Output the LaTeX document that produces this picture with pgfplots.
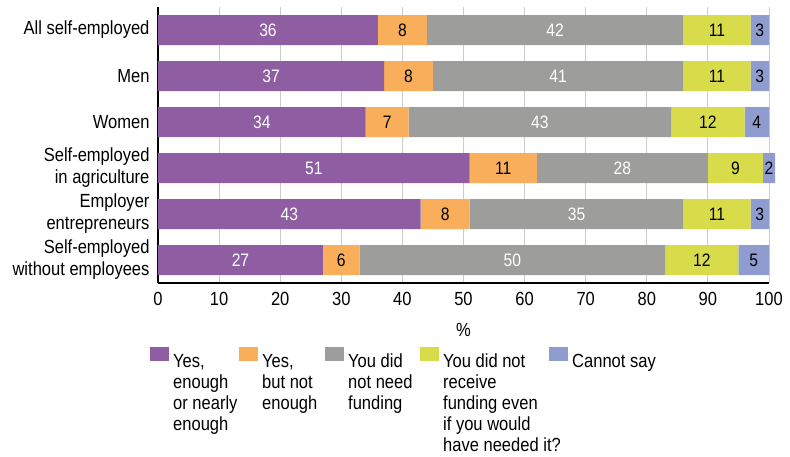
\documentclass[border=0pt]{standalone}
\usepackage{pgfplots}
\pgfplotsset{compat=1.18}
\usepackage{pgfplotstable}
\usepackage{fontspec}
\setmainfont{Liberation Sans}[FakeStretch=0.87]

\definecolor{cA}{HTML}{8F5EA2}
\definecolor{cB}{HTML}{F8AE5A}
\definecolor{cC}{HTML}{9D9D9C}
\definecolor{cD}{HTML}{D8DC4B}
\definecolor{cE}{HTML}{8E9CD0}

% y = row of the chart, a..e = the five answers (%)
\pgfplotstableread{
y a  b  c  d  e
0 36 8  42 11 3
1 37 8  41 11 3
2 34 7  43 12 4
3 51 11 28 9  2
4 43 8  35 11 3
5 27 6  50 12 5
}\data

\newcommand{\entry}[2]{\makebox[#1][l]{\begin{tabular}[t]{@{}l@{}}#2\end{tabular}}}

\begin{document}
\begin{tikzpicture}
\begin{axis}[
    xbar stacked,
    x=6.11pt, y=46pt, bar width=30pt,
    xmin=0, xmax=100, ymin=-0.5, ymax=5.5,
    y dir=reverse,
    clip=false,
    axis lines*=left,
    axis line style={-, black, line width=1.5pt},
    xtick={0,10,...,100},
    ytick={0,...,5},
    yticklabels={All self-employed, Men, Women, {Self-employed\\in agriculture}, {Employer\\entrepreneurs}, {Self-employed\\without employees}},
    yticklabel style={align=right, xshift=-5pt},
    xticklabel style={yshift=-6pt},
    xmajorgrids,
    grid style={black!20, line width=1pt},
    major tick length=0pt,
    tick label style={font=\fontsize{19}{22}\selectfont},
    /pgf/number format/assume math mode=true,
    xlabel={\%},
    xlabel style={yshift=-10pt},
    label style={font=\fontsize{19}{22}\selectfont},
    point meta=explicit,
    nodes near coords={\pgfmathprintnumber{\pgfplotspointmeta}},
    every node near coord/.append style={anchor=center, font=\fontsize{18}{20}\selectfont},
    legend image code/.code={\fill[#1] (0pt,0pt) rectangle (19pt,14pt);},
    legend cell align=left,
    legend columns=5,
    legend style={draw=none, fill=none, inner sep=0pt, at={(0,0)}, anchor=north west, xshift=-8pt, yshift=-64pt,
        font=\fontsize{19}{21}\selectfont, nodes={inner sep=2pt},
        /tikz/every odd column/.style={column sep=2pt},
        /tikz/every even column/.style={column sep=0pt}},
]
\addplot[fill=cA, draw=none, every node near coord/.append style={text=white}] table[x=a, y=y, meta=a] {\data};
\addlegendentry{\entry{64pt}{Yes,\\enough\\or nearly\\enough}}
\addplot[fill=cB, draw=none, every node near coord/.append style={text=black}] table[x=b, y=y, meta=b] {\data};
\addlegendentry{\entry{61pt}{Yes,\\but not\\enough}}
\addplot[fill=cC, draw=none, every node near coord/.append style={text=white}] table[x=c, y=y, meta=c] {\data};
\addlegendentry{\entry{70pt}{You did\\not need\\funding}}
\addplot[fill=cD, draw=none, every node near coord/.append style={text=black}] table[x=d, y=y, meta=d] {\data};
\addlegendentry{\entry{104pt}{You did not\\receive\\funding even\\if you would\\have needed it?}}
\addplot[fill=cE, draw=none, every node near coord/.append style={text=black}] table[x=e, y=y, meta=e] {\data};
\addlegendentry{\entry{80pt}{Cannot say}}
\end{axis}
\path (current axis.south west) ++(-158pt,-173pt) rectangle ++(790pt,456pt);
\end{tikzpicture}
\end{document}
